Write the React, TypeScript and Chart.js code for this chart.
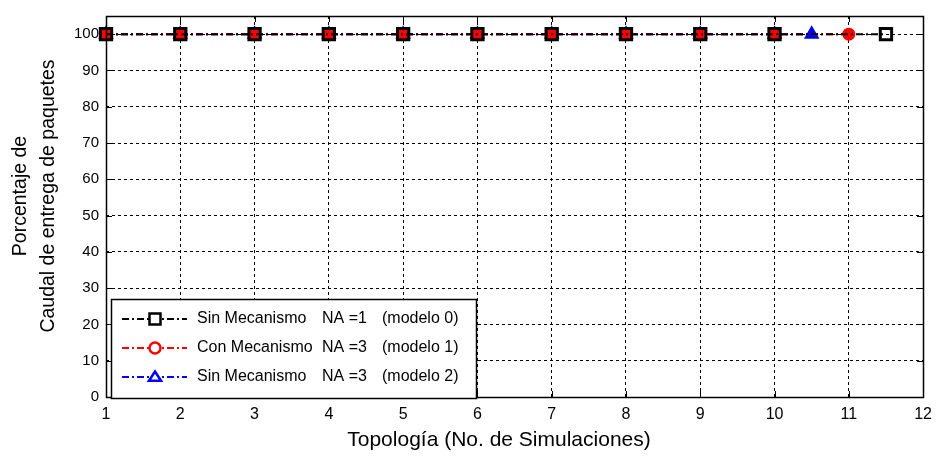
import React, { useEffect, useRef } from 'react';
import { Chart, registerables } from 'chart.js';

Chart.register(...registerables);

const xTicks = [1, 2, 3, 4, 5, 6, 7, 8, 9, 10, 11, 12];
const yTicks = [0, 10, 20, 30, 40, 50, 60, 70, 80, 90, 100];

const model0X = [1, 2, 3, 4, 5, 6, 7, 8, 9, 10, 11.5];
const model0Y = [100, 100, 100, 100, 100, 100, 100, 100, 100, 100, 100];
const model1X = [1, 2, 3, 4, 5, 6, 7, 8, 9, 10, 11];
const model1Y = [100, 100, 100, 100, 100, 100, 100, 100, 100, 100, 100];
const model2X = [1, 2, 3, 4, 5, 6, 7, 8, 9, 10, 10.5];
const model2Y = [100, 100, 100, 100, 100, 100, 100, 100, 100, 100, 100];

const legendNames = ['Sin Mecanismo', 'Con Mecanismo', 'Sin Mecanismo'];
const legendNA = ['NA =1', 'NA =3', 'NA =3'];
const legendModels = ['(modelo 0)', '(modelo 1)', '(modelo 2)'];
const seriesColors = ['#000000', '#ff0000', '#0000ff'];
const seriesShapes = ['rect', 'circle', 'triangle'];

const xTitle = 'Topología (No. de Simulaciones)';
const yTitleLines = ['Porcentaje de', 'Caudal de entrega de paquetes'];

const FONT = '"Liberation Sans", Arial, sans-serif';
const DASHDOT = [7, 3, 2, 3];

function toPoints(xs: number[], ys: number[]) {
  return xs.map((x, i) => ({ x, y: ys[i] }));
}

function drawMarker(ctx: CanvasRenderingContext2D, shape: string, x: number, y: number, r: number, color: string) {
  ctx.save();
  ctx.setLineDash([]);
  ctx.strokeStyle = color;
  ctx.lineWidth = 2.5;
  ctx.beginPath();
  if (shape === 'rect') {
    ctx.rect(x - r, y - r, 2 * r, 2 * r);
  } else if (shape === 'circle') {
    ctx.arc(x, y, r, 0, Math.PI * 2);
  } else {
    ctx.moveTo(x, y - r);
    ctx.lineTo(x + r * 1.1, y + r * 0.7);
    ctx.lineTo(x - r * 1.1, y + r * 0.7);
    ctx.closePath();
  }
  ctx.fillStyle = '#fff';
  ctx.fill();
  ctx.stroke();
  ctx.restore();
}

const decorPlugin = {
  id: 'decor',
  afterDatasetsDraw(chart: any) {
    const { ctx, chartArea } = chart;
    const { left, right, top, bottom } = chartArea;
    const xs = chart.scales.x;
    const ys = chart.scales.y;
    ctx.save();
    ctx.setLineDash([]);
    ctx.strokeStyle = '#000';
    ctx.lineWidth = 1;
    ctx.beginPath();
    xTicks.forEach((v) => {
      const px = Math.round(xs.getPixelForValue(v)) + 0.5;
      ctx.moveTo(px, bottom);
      ctx.lineTo(px, bottom - 6);
      ctx.moveTo(px, top);
      ctx.lineTo(px, top + 6);
    });
    yTicks.forEach((v) => {
      const py = Math.round(ys.getPixelForValue(v)) + 0.5;
      ctx.moveTo(left, py);
      ctx.lineTo(left + 6, py);
      ctx.moveTo(right, py);
      ctx.lineTo(right - 6, py);
    });
    ctx.stroke();
    ctx.lineWidth = 1.5;
    ctx.strokeRect(Math.round(left) + 0.5, Math.round(top) + 0.5, Math.round(right - left), Math.round(bottom - top));

    // legend box
    const bx = 111, by = 299, bw = 365, bh = 99;
    ctx.fillStyle = '#fff';
    ctx.fillRect(bx, by, bw, bh);
    ctx.lineWidth = 1.5;
    ctx.strokeRect(bx + 0.5, by + 0.5, bw, bh);
    const rowsY = [319, 348, 377];
    rowsY.forEach((ry, i) => {
      ctx.save();
      ctx.strokeStyle = seriesColors[i];
      ctx.lineWidth = 2;
      ctx.setLineDash(DASHDOT);
      ctx.beginPath();
      ctx.moveTo(122, ry);
      ctx.lineTo(187, ry);
      ctx.stroke();
      ctx.restore();
      drawMarker(ctx, seriesShapes[i], 155, ry, 5.5, seriesColors[i]);
      ctx.fillStyle = '#000';
      ctx.font = `16px ${FONT}`;
      ctx.textBaseline = 'middle';
      ctx.textAlign = 'left';
      ctx.fillText(legendNames[i], 197, ry);
      ctx.fillText(legendNA[i], 322, ry);
      ctx.fillText(legendModels[i], 382, ry);
    });

    // titles
    ctx.fillStyle = '#000';
    ctx.textAlign = 'center';
    ctx.textBaseline = 'middle';
    ctx.font = `21px ${FONT}`;
    ctx.fillText(xTitle, 499, 440);
    ctx.font = `19.5px ${FONT}`;
    ctx.save();
    ctx.translate(21, 196);
    ctx.rotate(-Math.PI / 2);
    ctx.fillText(yTitleLines[0], 0, 0);
    ctx.restore();
    ctx.save();
    ctx.translate(49, 196);
    ctx.rotate(-Math.PI / 2);
    ctx.fillText(yTitleLines[1], 0, 0);
    ctx.restore();
    ctx.restore();
  },
};

export default function App() {
  const ref = useRef<HTMLCanvasElement | null>(null);
  useEffect(() => {
    document.body.style.margin = '0';
    const canvas = ref.current;
    if (!canvas) return;
    const mk = (label: string, xs: number[], ys: number[], i: number, radius: number, bw: number, order: number, fill: string) => ({
      label,
      data: toPoints(xs, ys),
      borderColor: seriesColors[i],
      backgroundColor: fill,
      borderWidth: 2,
      borderDash: DASHDOT,
      pointStyle: seriesShapes[i],
      pointRadius: radius,
      pointBorderWidth: bw,
      pointBorderColor: seriesColors[i],
      pointBackgroundColor: fill,
      showLine: true,
      fill: false,
      tension: 0,
      clip: false,
      order,
    });
    const chart = new Chart(canvas, {
      type: 'scatter',
      data: {
        datasets: [
          mk('Sin Mecanismo NA =1 (modelo 0)', model0X, model0Y, 0, 8, 3, 0, 'rgba(0,0,0,0)'),
          mk('Con Mecanismo NA =3 (modelo 1)', model1X, model1Y, 1, 5, 3, 1, 'rgba(255,0,0,1)'),
          mk('Sin Mecanismo NA =3 (modelo 2)', model2X, model2Y, 2, 7, 2, 2, 'rgba(0,0,255,1)'),
        ] as any,
      },
      options: {
        animation: false,
        responsive: false,
        devicePixelRatio: 1,
        layout: { padding: { left: 0, right: 8, top: 15, bottom: 0 } },
        plugins: { legend: { display: false }, tooltip: { enabled: false } },
        scales: {
          x: {
            type: 'linear',
            min: 1,
            max: 12,
            afterBuildTicks: (s: any) => {
              s.ticks = xTicks.map((v) => ({ value: v }));
            },
            afterFit: (s: any) => {
              s.height = 68;
            },
            grid: { color: '#000', lineWidth: 1, drawTicks: false },
            border: { display: false, dash: [3, 3] },
            ticks: { color: '#000', font: { family: FONT, size: 16 }, padding: 8, maxRotation: 0, autoSkip: false },
          },
          y: {
            type: 'linear',
            min: 0,
            max: 105,
            afterBuildTicks: (s: any) => {
              s.ticks = yTicks.map((v) => ({ value: v }));
            },
            afterFit: (s: any) => {
              s.width = 106;
            },
            grid: { color: '#000', lineWidth: 1, drawTicks: false },
            border: { display: false, dash: [3, 3] },
            ticks: { color: '#000', font: { family: FONT, size: 15 }, padding: 7, autoSkip: false },
          },
        },
      } as any,
      plugins: [decorPlugin],
    });
    return () => chart.destroy();
  }, []);
  return (
    <div style={{ width: 940, height: 465, background: '#fff' }}>
      <canvas ref={ref} width={940} height={465} style={{ display: 'block' }} />
    </div>
  );
}
